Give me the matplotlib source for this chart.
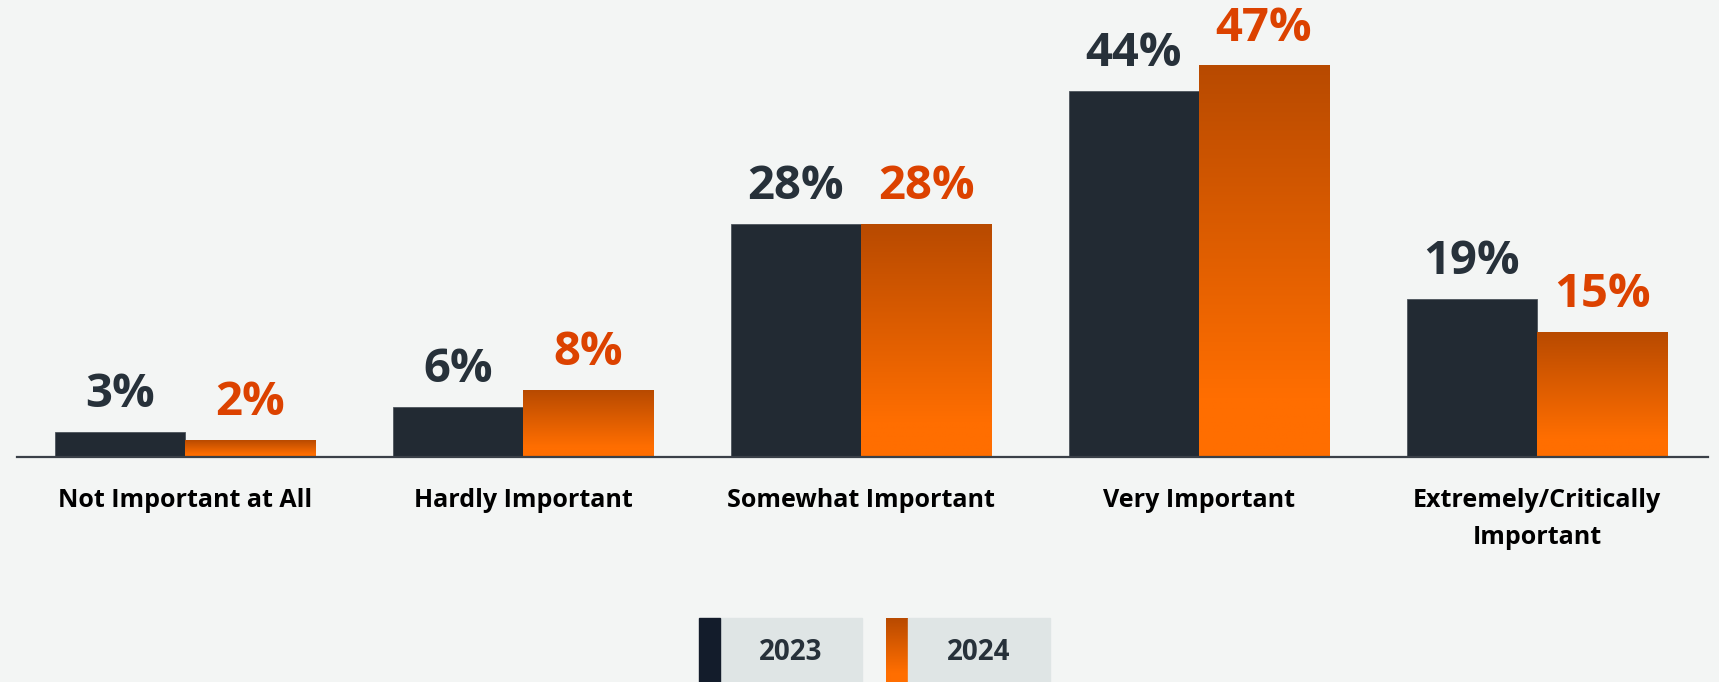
import matplotlib.pyplot as plt
import numpy as np
from matplotlib.colors import LinearSegmentedColormap
from matplotlib.patches import Rectangle

categories = [
    "Not Important at All",
    "Hardly Important",
    "Somewhat Important",
    "Very Important",
    "Extremely/Critically\nImportant",
]
years = ["2023", "2024"]
share_2023 = [3, 6, 28, 44, 19]
share_2024 = [2, 8, 28, 47, 15]

BG = "#F3F5F4"
DARK = "#222A33"
DARK_TXT = "#27313A"
ORANGE_TXT = "#DC4200"
LEGEND_BOX = "#DFE5E5"
orange_grad = LinearSegmentedColormap.from_list(
    "orange_grad", [(0, "#FF6E00"), (0.15, "#FF6E00"), (1, "#B84A00")])
grad = np.linspace(0, 1, 256).reshape(-1, 1)

plt.rcParams["font.family"] = ["Open Sans", "DejaVu Sans"]

W, H = 1719, 682
fig = plt.figure(figsize=(W / 100, H / 100), dpi=100, facecolor=BG)
ax = fig.add_axes([17 / W, 1 - 457 / H, (1708 - 17) / W, 457 / H])
ax.set_facecolor(BG)

x = np.arange(len(categories))
w = 0.385
ax.bar(x - w / 2, share_2023, w, color=DARK, edgecolor="#4d545c", linewidth=0.6, zorder=2)
bars = ax.bar(x + w / 2, share_2024, w, color="none", zorder=2)
# Orange bars get a vertical gradient, stretched over each bar's own height.
for b in bars:
    x0 = b.get_x()
    ax.imshow(grad, cmap=orange_grad, origin="lower", aspect="auto",
              extent=(x0, x0 + b.get_width(), 0, b.get_height()), zorder=2)

for xi, v in zip(x, share_2023):
    ax.annotate(f"{v}%", (xi - w / 2, v), xytext=(0, 18), textcoords="offset points",
                ha="center", va="baseline", fontsize=34, fontweight="bold", color=DARK_TXT)
for xi, v in zip(x, share_2024):
    ax.annotate(f"{v}%", (xi + w / 2, v), xytext=(0, 18), textcoords="offset points",
                ha="center", va="baseline", fontsize=34, fontweight="bold", color=ORANGE_TXT)

ax.set_xlim(-0.497, 4.506)
ax.set_ylim(0, 457 / 8.32)
ax.set_xticks(x, categories, fontsize=18, fontweight="bold", color="black", linespacing=1.65)
ax.tick_params(axis="x", length=0, pad=22)
ax.set_yticks([])
for side in ["top", "right", "left"]:
    ax.spines[side].set_visible(False)
ax.spines["bottom"].set_color("#3A4048")
ax.spines["bottom"].set_linewidth(1.6)
ax.spines["bottom"].set_zorder(3)

# Legend: colour swatch on the left of a grey box with the year.
legend_items = [(699, 720, 862), (886, 908, 1050)]
for (sx0, sx1, bx1), year in zip(legend_items, years):
    top, bottom = 618, 682
    fig.patches.append(Rectangle((sx1 / W, 1 - bottom / H), (bx1 - sx1) / W, (bottom - top) / H,
                                 transform=fig.transFigure, color=LEGEND_BOX))
    fig.text((sx1 + bx1) / 2 / W, 1 - 652 / H, year, ha="center", va="center",
             fontsize=20, fontweight="bold", color=DARK_TXT)
    if year == years[0]:
        fig.patches.append(Rectangle((sx0 / W, 1 - bottom / H), (sx1 - sx0) / W, (bottom - top) / H,
                                     transform=fig.transFigure, color="#131C2B"))
    else:
        sw = fig.add_axes([sx0 / W, 1 - bottom / H, (sx1 - sx0) / W, (bottom - top) / H])
        sw.imshow(grad, cmap=orange_grad, origin="lower", aspect="auto")
        sw.axis("off")

fig.savefig("out.png", dpi=100, facecolor=BG)
